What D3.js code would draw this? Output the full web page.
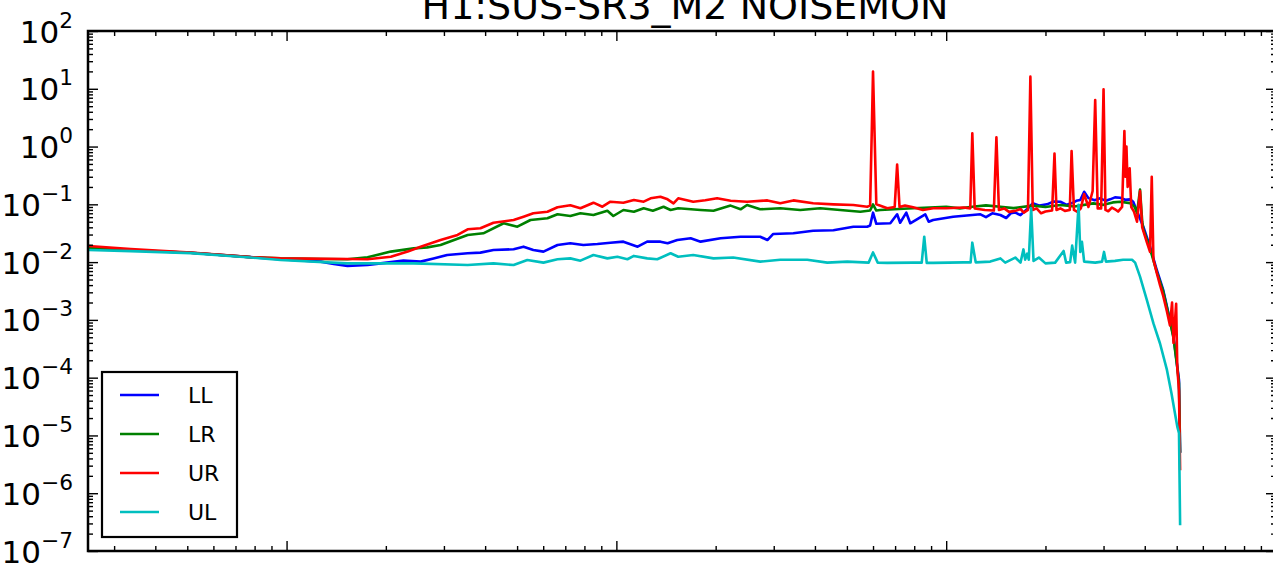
<!DOCTYPE html>
<html><head><meta charset="utf-8">
<script src="https://cdn.jsdelivr.net/npm/d3@7"></script>
<style>
html,body{margin:0;padding:0;background:#fff;overflow:hidden;}
svg{display:block;font-family:"DejaVu Sans",sans-serif;}
</style></head>
<body><svg id="chart" width="1273" height="564"></svg>
<script>
const title = "H1:SUS-SR3_M2 NOISEMON";
const seriesNames = ["LL","LR","UR","UL"];
const seriesColors = ["#0000ff","#008000","#ff0000","#00bfbf"];
const yTickExps = [2,1,0,-1,-2,-3,-4,-5,-6,-7];
const xMajorTicks = [1,10,100,1000];

const LL_F = [0.251,0.337,0.512,0.778,0.959,1.27,1.39,1.53,1.76,1.93,2.26,2.55,2.79,3.07,3.54,3.87,4.24,4.88,5.23,5.60,6.01,6.63,7.25,7.94,8.76,9.59,10.5,11.6,12.4,13.6,14.3,15.3,16.8,18.0,20.7,23.8,27.3,28.7,29.9,34.4,39.5,45.5,52.3,57.6,58.8,60,61.4,67.7,71.0,72.5,75.7,77.8,86.4,88.5,91.3,105,120,127,132,138,146,152,157,162,168,176,183,192,202,212,222,232,241,248,255,262,270,282,293,305,314,325,337,349,361,369,396,415,435,455,472,489,502,508,512];
const LL_V = [0.0175,0.0160,0.0145,0.0122,0.0112,0.0102,0.0093,0.0086,0.0089,0.0095,0.0106,0.0102,0.0116,0.0133,0.0142,0.0146,0.0162,0.0167,0.0185,0.0162,0.0152,0.0198,0.0212,0.0198,0.0206,0.0217,0.0226,0.0185,0.0226,0.0226,0.0212,0.0241,0.0258,0.0226,0.0258,0.0275,0.0275,0.0241,0.0307,0.0315,0.0350,0.0356,0.0410,0.0410,0.043,0.0717,0.046,0.0470,0.0672,0.048,0.0717,0.047,0.0672,0.05,0.0536,0.0611,0.0654,0.0672,0.060,0.070,0.0654,0.058,0.070,0.072,0.065,0.083,0.104,0.095,0.10,0.112,0.111,0.098,0.105,0.115,0.119,0.165,0.128,0.118,0.127,0.115,0.122,0.132,0.13,0.12,0.122,0.111,0.041,0.0185,0.0073,0.0033,0.0013,5.1e-4,1.55e-4,9.1e-5,5e-6];

const LR_F = [0.251,0.337,0.512,0.778,0.959,1.27,1.53,1.76,2.07,2.43,2.67,2.93,3.54,3.95,4.55,5.01,5.49,6.18,6.63,7.25,7.78,8.52,9.39,9.79,10.5,11.3,12.1,12.9,13.9,14.6,15.4,18.0,19.7,22.2,23.8,24.9,27.3,31.4,36.1,41.5,47.7,54.9,58.8,60,61.4,63.1,79.4,100,110,120,132,146,160,183,200,222,245,279,300,320,337,361,373,379,387,393,396,415,435,455,472,489,502,508,512];
const LR_V = [0.0178,0.0162,0.0145,0.0122,0.0116,0.0113,0.0112,0.0121,0.0152,0.0173,0.0180,0.0198,0.0295,0.0315,0.0470,0.0410,0.0536,0.0573,0.0672,0.0628,0.0700,0.0654,0.0776,0.0628,0.0798,0.0746,0.0854,0.0776,0.0910,0.0798,0.0854,0.0798,0.0776,0.095,0.082,0.0974,0.082,0.0854,0.0798,0.0854,0.0798,0.0746,0.078,0.1,0.078,0.0798,0.0854,0.091,0.085,0.091,0.096,0.091,0.086,0.095,0.09,0.0974,0.092,0.104,0.098,0.108,0.111,0.105,0.09,0.07,0.18,0.05,0.037,0.017,0.0068,0.0031,0.00125,4.8e-4,1.5e-4,8e-5,5e-6];

const UR_F = [0.251,0.337,0.512,0.778,0.959,1.53,1.76,2.07,2.33,2.55,2.93,3.30,3.54,3.87,4.24,4.88,5.23,5.60,6.18,6.63,7.25,7.78,8.52,9.07,9.59,10.5,11.3,12.1,12.7,13.6,14.3,14.9,15.4,17.1,18.6,20.2,22.2,24.9,28.7,31.4,34.4,39.5,45.5,52.3,57.6,58.8,59.5,60,60.6,61.4,66.3,69.8,71,72.2,75,79.4,85,91.3,100,113,118.3,120,122,131,139.5,142,144.5,150,155,162,168,172,177,180,183,188,194,200,209.5,213,216,222,229,237,240,244,250,256,262,270,278,283,288,295,300,304,310,318,325,332,341.5,347,349.5,352,355,360,364,371,379,387,393,406,415,420,425,435,445,455,467,477,484,489,498,502,508,512];
const UR_V = [0.019,0.0168,0.0146,0.0122,0.0116,0.0113,0.0112,0.0124,0.0152,0.0185,0.0241,0.0295,0.0370,0.0385,0.0481,0.0536,0.0611,0.0700,0.0746,0.0889,0.0962,0.0854,0.1068,0.0910,0.1111,0.1068,0.1189,0.1111,0.1272,0.1356,0.1222,0.1042,0.1272,0.1111,0.118,0.1272,0.115,0.1111,0.117,0.1042,0.117,0.1042,0.100,0.0974,0.091,0.095,2.0,19.8,2.0,0.1,0.0854,0.09,0.49,0.09,0.095,0.089,0.08,0.0854,0.0854,0.088,0.085,1.69,0.085,0.080,0.078,1.45,0.08,0.085,0.074,0.077,0.083,0.072,0.08,16.2,0.08,0.085,0.07,0.075,0.078,0.76,0.08,0.085,0.077,0.08,0.84,0.08,0.074,0.085,0.15,0.09,0.17,6.4,0.085,0.085,9.8,0.08,0.076,0.088,0.082,0.075,0.09,1.86,0.3,1.0,0.2,0.42,0.09,0.075,0.05,0.17,0.04,0.022,0.015,0.30,0.011,0.0065,0.0040,0.0026,0.0014,8e-4,2e-3,4e-4,1.9e-3,1.5e-4,6e-5,2.5e-6];

const UL_F = [0.251,0.337,0.512,0.778,0.959,1.53,2.43,3.54,4.24,4.88,5.37,6.01,6.63,7.25,7.78,8.52,9.39,10.07,10.8,11.3,12.4,13.3,14.6,15.4,17.1,19.7,22.6,27.3,31.4,37.9,43.6,50.1,58.2,60,62,66.3,79.4,84.3,85.8,87.3,91.3,113,118.6,120,122.9,136,146,151,162,168,171.5,173.6,176,178,181,184,191,200,214,227,231,237.6,241,246,252,255,258,262,283,297,301,305,325,344,366,374,387,406,425,445,467,482,494,502,508,512];
const UL_V = [0.0162,0.0155,0.0143,0.0120,0.0109,0.0095,0.0095,0.0089,0.0095,0.0089,0.0109,0.0098,0.0112,0.0116,0.0106,0.0133,0.0116,0.0124,0.0112,0.0128,0.0116,0.0112,0.0142,0.0124,0.0133,0.0116,0.012,0.0102,0.011,0.011,0.0098,0.0102,0.0098,0.0147,0.0098,0.0097,0.0098,0.0098,0.0275,0.0097,0.0097,0.0099,0.0099,0.0217,0.0099,0.0102,0.0116,0.0098,0.012,0.0098,0.0166,0.011,0.014,0.011,0.085,0.0105,0.012,0.0095,0.0098,0.0156,0.0098,0.010,0.0193,0.0098,0.098,0.015,0.0224,0.0102,0.0098,0.0102,0.015,0.0102,0.0105,0.011,0.011,0.0098,0.0056,0.0022,8.7e-4,3.9e-4,1.36e-4,5.4e-5,2.4e-5,1.42e-5,1.1e-5,2.8e-7];

const seriesF = [LL_F, LR_F, UR_F, UL_F];
const seriesV = [LL_V, LR_V, UR_V, UL_V];

const L = 88, R = 1276, T = 31, B = 551;
const svg = d3.select("#chart");
const x = d3.scaleLog().domain([0.25, 1000]).range([L, R]);
const y = d3.scaleLog().domain([1e-7, 1e2]).range([B, T]);

svg.append("defs").append("clipPath").attr("id","clip")
  .append("rect").attr("x",L).attr("y",T).attr("width",R-L).attr("height",B-T);

const line = d3.line().x(d => x(d[0])).y(d => y(d[1]));
const gLines = svg.append("g").attr("clip-path","url(#clip)");
seriesNames.forEach((n,i) => {
  gLines.append("path").datum(d3.zip(seriesF[i], seriesV[i]))
    .attr("d", line).attr("fill","none").attr("stroke", seriesColors[i])
    .attr("stroke-width", 2.6).attr("stroke-linejoin","round");
});

const xMinor = [];
for (let e = -1; e <= 2; e++) for (let m = 2; m <= 9; m++) { const v = m*Math.pow(10,e); if (v > 0.25 && v < 1000) xMinor.push(v); }
const yMinor = [];
for (let e = -7; e < 2; e++) for (let m = 2; m <= 9; m++) yMinor.push(m*Math.pow(10,e));
const yMajor = yTickExps.map(e => Math.pow(10,e));

function styleAxis(g){ g.select(".domain").remove(); g.selectAll("line").attr("stroke","#000").attr("stroke-width",1.4); g.selectAll("text").remove(); }
svg.append("g").attr("transform",`translate(0,${B})`).call(d3.axisBottom(x).tickValues(xMajorTicks).tickSize(-10).tickFormat("")).call(styleAxis);
svg.append("g").attr("transform",`translate(0,${B})`).call(d3.axisBottom(x).tickValues(xMinor).tickSize(-5).tickFormat("")).call(styleAxis);
svg.append("g").attr("transform",`translate(0,${T})`).call(d3.axisTop(x).tickValues(xMajorTicks).tickSize(-10).tickFormat("")).call(styleAxis);
svg.append("g").attr("transform",`translate(0,${T})`).call(d3.axisTop(x).tickValues(xMinor).tickSize(-5).tickFormat("")).call(styleAxis);
svg.append("g").attr("transform",`translate(${L},0)`).call(d3.axisLeft(y).tickValues(yMajor).tickSize(-10).tickFormat("")).call(styleAxis);
svg.append("g").attr("transform",`translate(${L},0)`).call(d3.axisLeft(y).tickValues(yMinor).tickSize(-5).tickFormat("")).call(styleAxis);
svg.append("g").attr("transform",`translate(${R},0)`).call(d3.axisRight(y).tickValues(yMajor).tickSize(-10).tickFormat("")).call(styleAxis);
svg.append("g").attr("transform",`translate(${R},0)`).call(d3.axisRight(y).tickValues(yMinor).tickSize(-5).tickFormat("")).call(styleAxis);

svg.append("rect").attr("x",L).attr("y",T).attr("width",R-L).attr("height",B-T)
  .attr("fill","none").attr("stroke","#000").attr("stroke-width",2.5);

yTickExps.forEach(e => {
  const t = svg.append("text").attr("x",73).attr("y", y(Math.pow(10,e)) + 11.5)
    .attr("text-anchor","end").attr("font-size",31).attr("fill","#000");
  t.append("tspan").text("10");
  t.append("tspan").attr("dy",-15).attr("font-size",21.7).text(e < 0 ? "\u2212" + (-e) : String(e));
});

svg.append("text").attr("x",685).attr("y",19).attr("text-anchor","middle")
  .attr("font-size",38).attr("fill","#000").text(title);

const lg = svg.append("g");
lg.append("rect").attr("x",102).attr("y",372).attr("width",135).attr("height",165)
  .attr("fill","#fff").attr("stroke","#000").attr("stroke-width",2.2);
seriesNames.forEach((n,i) => {
  const yy = 395 + i*39;
  lg.append("line").attr("x1",120).attr("x2",159).attr("y1",yy).attr("y2",yy)
    .attr("stroke",seriesColors[i]).attr("stroke-width",2.6);
  lg.append("text").attr("x",188).attr("y",yy+8).attr("font-size",22).attr("fill","#000").text(n);
});
</script></body></html>
